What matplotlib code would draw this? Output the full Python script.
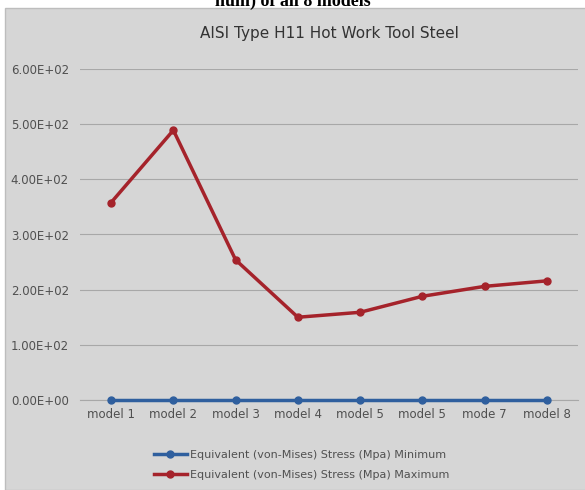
import matplotlib.pyplot as plt
from matplotlib.patches import Rectangle

# chart data
models = ['model 1', 'model 2', 'model 3', 'model 4', 'model 5', 'model 5', 'mode 7', 'model 8']
stress_min = [0, 0, 0, 0, 0, 0, 0, 0]
stress_max = [358, 489, 254, 150, 159, 188, 206, 216]
y_ticks = [0, 100, 200, 300, 400, 500, 600]
y_labels = ['0.00E+00', '1.00E+02', '2.00E+02', '3.00E+02', '4.00E+02', '5.00E+02', '6.00E+02']

bg = '#d6d6d6'
txt = '#505050'

fig = plt.figure(figsize=(5.85, 4.9), dpi=100)
fig.patch.set_facecolor('white')

# chart area frame
fig.patches.append(Rectangle((5 / 585, 0), 1, 1 - 8 / 490, transform=fig.transFigure,
                             facecolor=bg, edgecolor='#bdbdbd', linewidth=1, zorder=-5))

# caption above the chart (cut off at the top in the source)
fig.text(0.5, 1 - 6 / 490, 'num) of all 8 models', ha='center', va='baseline',
         fontsize=13, fontweight='bold', family='Liberation Serif', color='black')

ax = fig.add_axes([80 / 585, 90 / 490, 498 / 585, (400 - 69) / 490])
ax.set_zorder(2)
ax.set_facecolor(bg)
x = range(len(models))
ax.plot(x, stress_min, color='#2f5f9e', marker='o', markersize=5, linewidth=2.5,
        label='Equivalent (von-Mises) Stress (Mpa) Minimum', zorder=3, clip_on=False)
ax.plot(x, stress_max, color='#a5232b', marker='o', markersize=5, linewidth=2.5,
        label='Equivalent (von-Mises) Stress (Mpa) Maximum', zorder=3, clip_on=False)

ax.set_xlim(-0.5, len(models) - 0.5)
ax.set_ylim(0, 600)
ax.set_yticks(y_ticks)
ax.set_yticklabels(y_labels)
ax.set_xticks(list(x))
ax.set_xticklabels(models)
ax.grid(axis='y', color='#a8a8a8', linewidth=0.8)
ax.set_axisbelow(True)
for s in ['top', 'right', 'left']:
    ax.spines[s].set_visible(False)
ax.spines['bottom'].set_color('#a8a8a8')
ax.tick_params(axis='both', length=0, labelsize=8.5, colors=txt, pad=8)
ax.tick_params(axis='x', pad=6)

ax.set_title('AISI Type H11 Hot Work Tool Steel', fontsize=11, color='#333333', pad=22)

ax.legend(loc='upper center', bbox_to_anchor=(0.445, -0.12), frameon=False, fontsize=8,
          labelcolor=txt, handlelength=3, handletextpad=0.3, labelspacing=0.9)

fig.savefig('out.png', dpi=100, facecolor=fig.get_facecolor())
